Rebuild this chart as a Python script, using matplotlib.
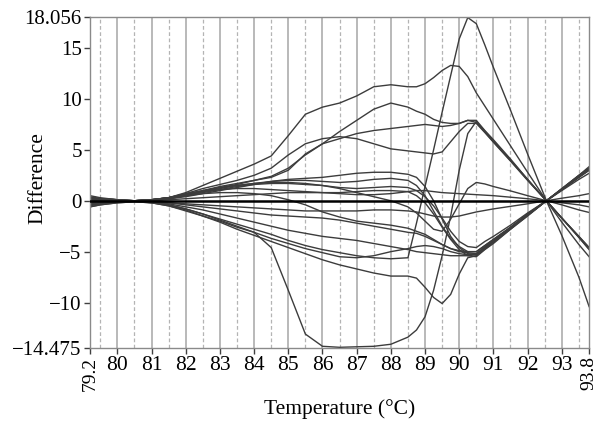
import matplotlib
matplotlib.use("Agg")
import matplotlib.pyplot as plt

plt.rcParams["font.family"] = ["Liberation Serif", "DejaVu Serif"]

#  Data 
temps = [79.2, 79.5, 80, 80.5, 81, 81.5, 82, 82.5, 83,
         83.5, 84, 84.5, 85, 85.5, 86, 86.5, 87, 87.5,
         88, 88.5, 88.75, 89, 89.25, 89.5, 89.75, 90, 90.25,
         90.5, 90.75, 91, 91.5, 92, 92.55, 93, 93.5, 93.8]

c01 = [0.5, 0.3, 0.1, 0.0, 0.1, 0.3, 0.8, 1.5, 2.2,
       2.9, 3.6, 4.4, 6.4, 8.5, 9.2, 9.6, 10.3, 11.2,
       11.4, 11.2, 11.2, 11.5, 12.1, 12.8, 13.3, 13.2, 12.2,
       10.6, 9.3, 8.0, 5.4, 2.8, 0.0, -2.1, -4.3, -5.5]
c02 = [-0.4, -0.2, -0.1, 0.0, -0.1, -0.4, -0.8, -1.3, -1.8,
       -2.3, -2.8, -3.3, -3.9, -4.4, -4.8, -5.1, -5.4, -5.6,
       -5.7, -5.6, -2.2, 1.4, 5.0, 8.7, 12.3, 15.9, 18.0,
       17.4, 15.3, 13.1, 8.9, 4.6, 0.0, -3.4, -7.5, -10.4]
c03 = [-0.6, -0.4, -0.2, -0.1, -0.2, -0.5, -1.0, -1.5, -2.0,
       -2.6, -3.1, -4.6, -8.8, -13.1, -14.3, -14.4, -14.35, -14.3,
       -14.1, -13.4, -12.7, -11.4, -8.8, -5.4, -1.5, 3.0, 6.6,
       7.8, 6.85, 5.9, 4.0, 2.1, 0.0, -1.7, -3.6, -4.75]
c04 = [0.4, 0.2, 0.1, 0.0, 0.1, 0.2, 0.6, 1.0, 1.4,
       1.7, 2.0, 2.4, 3.2, 4.5, 5.6, 6.8, 7.9, 9.0,
       9.6, 9.2, 8.8, 8.5, 8.0, 7.7, 7.6, 7.6, 7.9,
       7.9, 6.9, 6.0, 4.1, 2.1, 0.0, -1.7, -3.6, -4.8]
c05 = [0.3, 0.2, 0.1, 0.0, 0.0, 0.2, 0.5, 0.9, 1.3,
       1.6, 2.0, 2.3, 3.0, 4.6, 5.6, 6.1, 6.6, 6.9,
       7.1, 7.3, 7.4, 7.5, 7.4, 7.3, 7.4, 7.6, 7.9,
       7.7, 6.75, 5.8, 3.95, 2.05, 0.0, -1.7, -3.5, -4.6]
c06 = [0.2, 0.1, 0.0, 0.0, 0.1, 0.3, 0.7, 1.2, 1.6,
       2.0, 2.5, 3.2, 4.5, 5.6, 6.1, 6.3, 6.1, 5.6,
       5.1, 4.9, 4.8, 4.7, 4.6, 4.8, 5.8, 6.8, 7.6,
       7.6, 6.7, 5.75, 3.9, 2.0, 0.0, -1.7, -3.5, -4.6]
c07 = [0.1, 0.0, 0.0, 0.0, 0.1, 0.2, 0.4, 0.7, 1.0,
       1.3, 1.6, 1.9, 2.1, 2.2, 2.3, 2.5, 2.7, 2.8,
       2.8, 2.6, 2.3, 1.4, 0.0, -1.8, -3.5, -4.6, -5.2,
       -5.3, -4.65, -4.0, -2.7, -1.4, 0.0, 1.15, 2.45, 3.2]
c08 = [0.3, 0.2, 0.1, 0.0, 0.1, 0.3, 0.6, 0.9, 1.2,
       1.5, 1.7, 1.9, 2.0, 2.0, 1.9, 1.8, 1.9, 2.1,
       2.2, 2.0, 1.5, 0.5, -1.0, -2.5, -3.7, -4.5, -5.0,
       -5.0, -4.4, -3.8, -2.6, -1.3, 0.0, 1.1, 2.3, 3.0]
c09 = [-0.2, -0.1, 0.0, 0.0, 0.0, 0.2, 0.5, 0.8, 1.1,
       1.4, 1.6, 1.7, 1.7, 1.6, 1.5, 1.3, 1.2, 1.3,
       1.4, 1.3, 1.0, 0.4, -0.5, -1.7, -3.0, -4.0, -4.5,
       -4.6, -4.0, -3.5, -2.4, -1.2, 0.0, 1.0, 2.1, 2.7]
c10 = [0.0, 0.0, 0.0, 0.0, 0.1, 0.3, 0.6, 0.9, 1.1,
       1.2, 1.2, 1.1, 1.0, 0.9, 0.8, 0.8, 0.9, 1.0,
       1.0, 0.9, 0.5, -0.2, -1.3, -2.6, -3.8, -4.8, -5.4,
       -5.5, -4.8, -4.2, -2.8, -1.5, 0.0, 1.2, 2.5, 3.35]
c11 = [0.2, 0.1, 0.0, 0.0, 0.1, 0.3, 0.7, 1.0, 1.3,
       1.5, 1.7, 1.8, 1.8, 1.7, 1.5, 1.2, 0.8, 0.4,
       0.0, -0.6, -1.2, -2.0, -2.8, -3.0, -1.8, -0.3, 1.2,
       1.8, 1.65, 1.4, 0.97, 0.5, 0.0, -0.4, -0.9, -1.15]
c12 = [-0.1, -0.1, 0.0, 0.0, -0.1, -0.2, -0.3, -0.4, -0.5,
       -0.6, -0.7, -0.8, -0.9, -1.0, -1.0, -1.0, -1.0, -0.9,
       -0.9, -1.0, -1.1, -1.3, -1.5, -1.6, -1.6, -1.5, -1.3,
       -1.1, -0.95, -0.8, -0.55, -0.3, 0.0, 0.25, 0.5, 0.7]
c13 = [-0.3, -0.2, -0.1, 0.0, -0.1, -0.2, -0.4, -0.6, -0.8,
       -1.0, -1.2, -1.4, -1.5, -1.6, -1.7, -1.9, -2.2, -2.5,
       -2.8, -3.1, -3.2, -3.5, -3.9, -4.3, -4.7, -5.0, -5.1,
       -5.2, -4.55, -3.9, -2.65, -1.4, 0.0, 1.1, 2.35, 3.1]
c14 = [-0.4, -0.3, -0.1, 0.0, -0.1, -0.3, -0.6, -0.9, -1.3,
       -1.7, -2.1, -2.5, -2.9, -3.2, -3.5, -3.7, -3.9, -4.2,
       -4.5, -4.8, -5.0, -5.1, -5.2, -5.3, -5.4, -5.4, -5.4,
       -5.3, -4.65, -4.0, -2.7, -1.4, 0.0, 1.15, 2.45, 3.2]
c15 = [-0.5, -0.3, -0.1, 0.0, -0.2, -0.4, -0.8, -1.3, -1.9,
       -2.5, -3.1, -3.7, -4.2, -4.7, -5.1, -5.5, -5.6, -5.4,
       -5.0, -4.7, -4.5, -4.4, -4.5, -4.7, -5.0, -5.2, -5.3,
       -5.2, -4.55, -3.95, -2.65, -1.4, 0.0, 1.1, 2.35, 3.1]
c16 = [-0.6, -0.4, -0.2, -0.1, -0.2, -0.5, -0.9, -1.5, -2.1,
       -2.8, -3.4, -4.0, -4.6, -5.2, -5.8, -6.3, -6.7, -7.1,
       -7.4, -7.4, -7.6, -8.5, -9.5, -10.1, -9.2, -7.2, -5.6,
       -5.4, -4.75, -4.1, -2.8, -1.45, 0.0, 1.15, 2.5, 3.2]
c17 = [0.3, 0.2, 0.1, 0.0, 0.1, 0.3, 0.5, 0.7, 0.8,
       0.8, 0.7, 0.5, 0.1, -0.4, -1.1, -1.6, -2.0, -2.2,
       -2.4, -2.7, -3.0, -3.3, -3.8, -4.3, -4.7, -4.9, -5.0,
       -5.0, -4.4, -3.8, -2.6, -1.3, 0.0, 1.1, 2.3, 3.0]
c18 = [0.1, 0.1, 0.0, 0.0, 0.0, 0.1, 0.2, 0.3, 0.4,
       0.5, 0.6, 0.7, 0.8, 0.8, 0.8, 0.7, 0.6, 0.6,
       0.7, 0.9, 1.0, 1.0, 0.9, 0.8, 0.75, 0.7, 0.65,
       0.6, 0.55, 0.5, 0.35, 0.2, 0.0, -0.2, -0.4, -0.6]

curves = [c01, c02, c03, c04, c05, c06, c07, c08, c09,
          c10, c11, c12, c13, c14, c15, c16, c17, c18]

x_min, x_max = 79.2, 93.8
y_min, y_max = -14.475, 18.056
x_ticks = [79.2] + list(range(80, 94)) + [93.8]
x_labels = ["79.2"] + [str(t) for t in range(80, 94)] + ["93.8"]
y_ticks = [-14.475, -10, -5, 0, 5, 10, 15, 18.056]
y_labels = ["\u221214.475", "\u221210", "\u22125", "0", "5", "10", "15", "18.056"]

#  Figure 
fig = plt.figure(figsize=(5.97, 4.25), dpi=100)
ax = fig.add_axes([0.1508, 0.181, 0.836, 0.779])

# vertical grid: solid on whole degrees, dashed on half degrees
for t in range(80, 94):
    ax.axvline(t, color="#a6a6a6", lw=1.1, zorder=1)
for t in range(79, 94):
    ax.axvline(t + 0.5, color="#b4b4b4", lw=0.9, ls=(0, (3, 2)), zorder=1)

for c in curves:
    ax.plot(temps, c, color="#3c3c3c", lw=1.0, zorder=2)

ax.axhline(0, color="black", lw=1.8, zorder=3)

ax.set_xlim(x_min, x_max)
ax.set_ylim(y_min, y_max)
ax.set_xticks(x_ticks)
ax.set_xticklabels(x_labels, fontsize=15.5)
ax.set_yticks(y_ticks)
ax.set_yticklabels(y_labels, fontsize=15)
for lbl in (ax.get_xticklabels()[0], ax.get_xticklabels()[-1]):
    lbl.set_rotation(90)
    lbl.set_fontsize(14)

ax.tick_params(axis="both", direction="out", length=4, width=1,
               color="#404040", pad=2)
for s in ax.spines.values():
    s.set_color("#8a8a8a")
    s.set_linewidth(1.0)

ax.set_xlabel("Temperature (\u00b0C)", fontsize=15.5, labelpad=6)
ax.set_ylabel("Difference", fontsize=15.5)
ax.yaxis.set_label_coords(-0.086, 0.515)

fig.savefig("out.png", dpi=100)
